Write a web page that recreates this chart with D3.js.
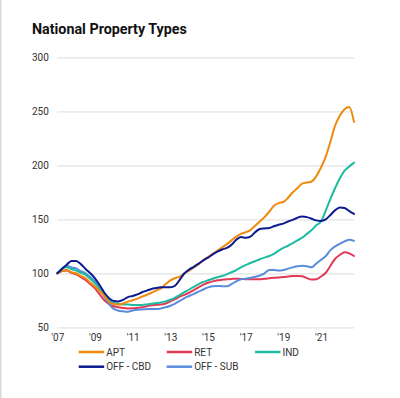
<!DOCTYPE html>
<html>
<head>
<meta charset="utf-8">
<script src="https://cdn.jsdelivr.net/npm/d3@7"></script>
<style>
  html, body { margin: 0; padding: 0; background: #fff; }
  svg { display: block; font-family: Roboto, "Noto Sans", sans-serif; }
</style>
</head>
<body>
<svg id="chart" width="400" height="398"></svg>
<script>
// ---- Data (quarterly index, 2007Q1 = 100) ----
const startYear = 2007;
const quarters = d3.range(64).map(i => startYear + i / 4);

const seriesNames = ["APT", "RET", "IND", "OFF - CBD", "OFF - SUB"];

const apt = [100,102,103,101,100,97.5,95.4,91.5,87.7,83.5,79,73.5,71.5,71,72,73.8,
  75,76.5,78.5,80,82,84,86,90,93.5,95.5,97,100,102.5,105.5,108.5,112,
  115,118,121,124,127,130.5,134,136.5,138,140,144,148,152,157,162.5,165,
  166,170,175,179,183,184,185,190,198,208,222,237,246,252,254,240];

const ret = [100,102,102.5,100.5,99,96.5,93.8,90,86,80.5,75,71.5,69.5,68.5,67.8,67.5,
  67.6,68,68.5,69.5,70.5,70.8,71,72,74,76,78.4,80,82,84.5,87,89.5,
  91.2,92.5,93.5,94,94.5,94.8,95,94.8,94.5,94.4,94.4,94.5,95,95.4,95.8,96.2,
  96.5,97,97.5,97.5,97.3,95.5,94.2,94.5,97,100.5,107,113.5,117,119.5,118.5,116];

const ind = [100,104,105.5,104,102.5,100.5,98.5,95,90.7,85.5,79.5,74.5,72.5,71.5,71.2,71,
  70.7,70.6,70.7,71.2,71.8,72.4,73,74,75.5,77.5,80,82.5,85,87.5,90,92,
  93.5,95,96.3,97.5,99,101,103,105.5,107.5,109.5,111.2,113,114.5,116,118,121,
  123.5,125.5,128,130.5,133,136.5,140,144.5,148,158,169,179,188,195,199,202.5];

const offCbd = [100,104,108,111.5,111.5,108.5,104,100,95.4,89,82,77,74.3,74,75.5,78,
  79,80.5,82.5,84,85.5,86.3,87,87,87,88.5,94,100,103.5,106,109,112,
  114.5,117.5,120,122,123.5,126.5,131,133.5,133,134,138,141,141.5,142,143.5,145,
  146,148,149.5,151.5,152.5,152,150.5,149,148.5,150,154,158.5,161,160.5,157.5,155];

const offSub = [100,104.5,107,105.5,104.5,102,100,96.5,92.3,86,78.5,71.5,67,65.3,64.8,64.5,
  65.5,66.2,66.5,66.8,67,67,67.5,68.5,70,72,74.4,77,79,81,83,85,
  87,88,88.3,88,88,90,92.5,94.5,95,95.7,96.8,98,100,103,103,102.5,
  103,104.3,105.5,106.5,107,106.5,105.6,109,112.5,116,121.5,125,127.2,129.5,131,130];

const yTicks = [50, 100, 150, 200, 250, 300];
const xTicks = [2007, 2009, 2011, 2013, 2015, 2017, 2019, 2021];
const xTickLabels = ["'07", "'09", "'11", "'13", "'15", "'17", "'19", "'21"];

const colors = ["#EE8A0E", "#E23A55", "#1DBBA0", "#0B1A8E", "#5A8CDD"];
const values = [apt, ret, ind, offCbd, offSub];

// ---- Drawing ----
const svg = d3.select("#chart");

// left border
svg.append("rect").attr("x", 0).attr("y", 0).attr("width", 1.5).attr("height", 398).attr("fill", "#d9d9d9");

// title
svg.append("text")
  .attr("x", 32).attr("y", 34.3)
  .attr("font-size", 14.3).attr("font-weight", 700)
  .attr("fill", "#111")
  .text("National Property Types");

const x = d3.scaleLinear().domain([2007, 2022.75]).range([57.3, 354]);
const y = d3.scaleLinear().domain([50, 300]).range([327.3, 57.3]);

// y axis with gridlines
const yAxis = svg.append("g")
  .attr("transform", `translate(${x.range()[0]},0)`)
  .call(d3.axisLeft(y).tickValues(yTicks)
    .tickSize(-(x.range()[1] - x.range()[0]))
    .tickPadding(8.5)
    .tickFormat(d3.format("d")));
yAxis.select(".domain").remove();
yAxis.selectAll(".tick line").attr("stroke", "#e3e3e3").attr("stroke-width", 1.2);
yAxis.selectAll(".tick text").attr("font-size", 10).attr("fill", "#333")
  .attr("font-family", "Roboto, sans-serif");

// x axis
const xAxis = svg.append("g")
  .attr("transform", `translate(0,${y(50)})`)
  .call(d3.axisBottom(x).tickValues(xTicks).tickSize(0).tickPadding(7)
    .tickFormat((d, i) => xTickLabels[i]));
xAxis.select(".domain").remove();
xAxis.selectAll(".tick text").attr("font-size", 10).attr("fill", "#333")
  .attr("font-family", "Roboto, sans-serif");

// lines
const line = d3.line()
  .x((d, i) => x(quarters[i]))
  .y(d => y(d))
  .curve(d3.curveMonotoneX);

// draw order: back to front
const order = [1, 4, 2, 0, 3];
order.forEach(k => {
  svg.append("path")
    .datum(values[k])
    .attr("fill", "none")
    .attr("stroke", colors[k])
    .attr("stroke-width", 2)
    .attr("stroke-linejoin", "round")
    .attr("stroke-linecap", "round")
    .attr("d", line);
});

// legend
const legendPos = [[78.7, 352], [166.7, 352], [255, 352], [78.7, 366.7], [166.7, 366.7]];
seriesNames.forEach((name, k) => {
  const g = svg.append("g").attr("transform", `translate(${legendPos[k][0]},${legendPos[k][1]})`);
  g.append("line").attr("x1", 0).attr("x2", 25.5).attr("y1", 0).attr("y2", 0)
    .attr("stroke", colors[k]).attr("stroke-width", 2.5);
  g.append("text").attr("x", 27.5).attr("y", 0).attr("dy", "0.35em")
    .attr("font-size", 10).attr("fill", "#333").text(name);
});
</script>
</body>
</html>
